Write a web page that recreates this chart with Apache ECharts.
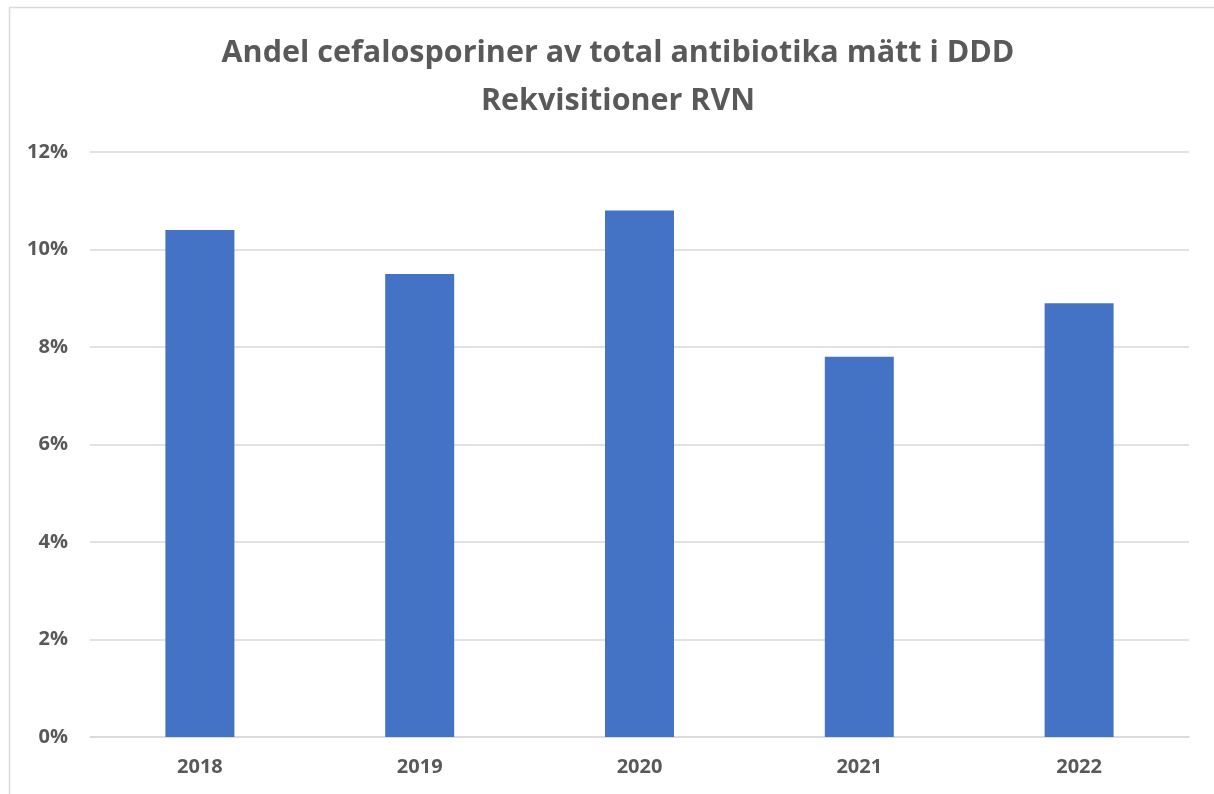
<!DOCTYPE html>
<html>
<head>
<meta charset="utf-8">
<script src="https://cdn.jsdelivr.net/npm/echarts@6/dist/echarts.min.js"></script>
<style>
  html, body { margin: 0; padding: 0; background: #fff; }
  #chart { width: 1214px; height: 794px; }
</style>
</head>
<body>
<div id="chart"></div>
<script>
  // data
  const years = ['2018', '2019', '2020', '2021', '2022'];
  const andel = [10.4, 9.5, 10.8, 7.8, 8.9]; // % cefalosporiner
  const yTicks = [0, 2, 4, 6, 8, 10, 12];

  const font = '"Open Sans", "Liberation Sans", sans-serif';
  const grey = '#595959';

  let myChart = echarts.init(document.getElementById('chart'));
  myChart.setOption({
    animation: false,
    title: {
      text: 'Andel cefalosporiner av total antibiotika mätt i DDD\nRekvisitioner RVN',
      left: 613,
      top: 24,
      textAlign: 'center',
      textStyle: {
        color: grey,
        fontFamily: font,
        fontWeight: 'bold',
        fontSize: 30.5,
        lineHeight: 48
      }
    },
    graphic: [{
      type: 'rect',
      shape: { x: 9.5, y: 7.5, width: 1400, height: 1000 },
      style: { fill: 'none', stroke: '#d9d9d9', lineWidth: 1.5 },
      silent: true
    }],
    grid: { left: 90, right: 25, top: 152, bottom: 57 },
    xAxis: {
      type: 'category',
      data: years,
      axisTick: { show: false },
      axisLine: { lineStyle: { color: '#d9d9d9', width: 1.5 } },
      axisLabel: {
        color: grey, fontFamily: font, fontWeight: 'bold', fontSize: 20, margin: 20
      }
    },
    yAxis: {
      type: 'value',
      min: yTicks[0],
      max: yTicks[yTicks.length - 1],
      interval: 2,
      axisLine: { show: false },
      axisTick: { show: false },
      splitLine: { lineStyle: { color: '#d9d9d9', width: 1.5 } },
      axisLabel: {
        color: grey, fontFamily: font, fontWeight: 'bold', fontSize: 20, margin: 22,
        formatter: '{value}%'
      }
    },
    series: [{
      type: 'bar',
      data: andel,
      barWidth: 69,
      itemStyle: { color: '#4472c4' }
    }]
  });
  window.addEventListener('resize', function () {
    myChart.resize();
  });
</script>
</body>
</html>
